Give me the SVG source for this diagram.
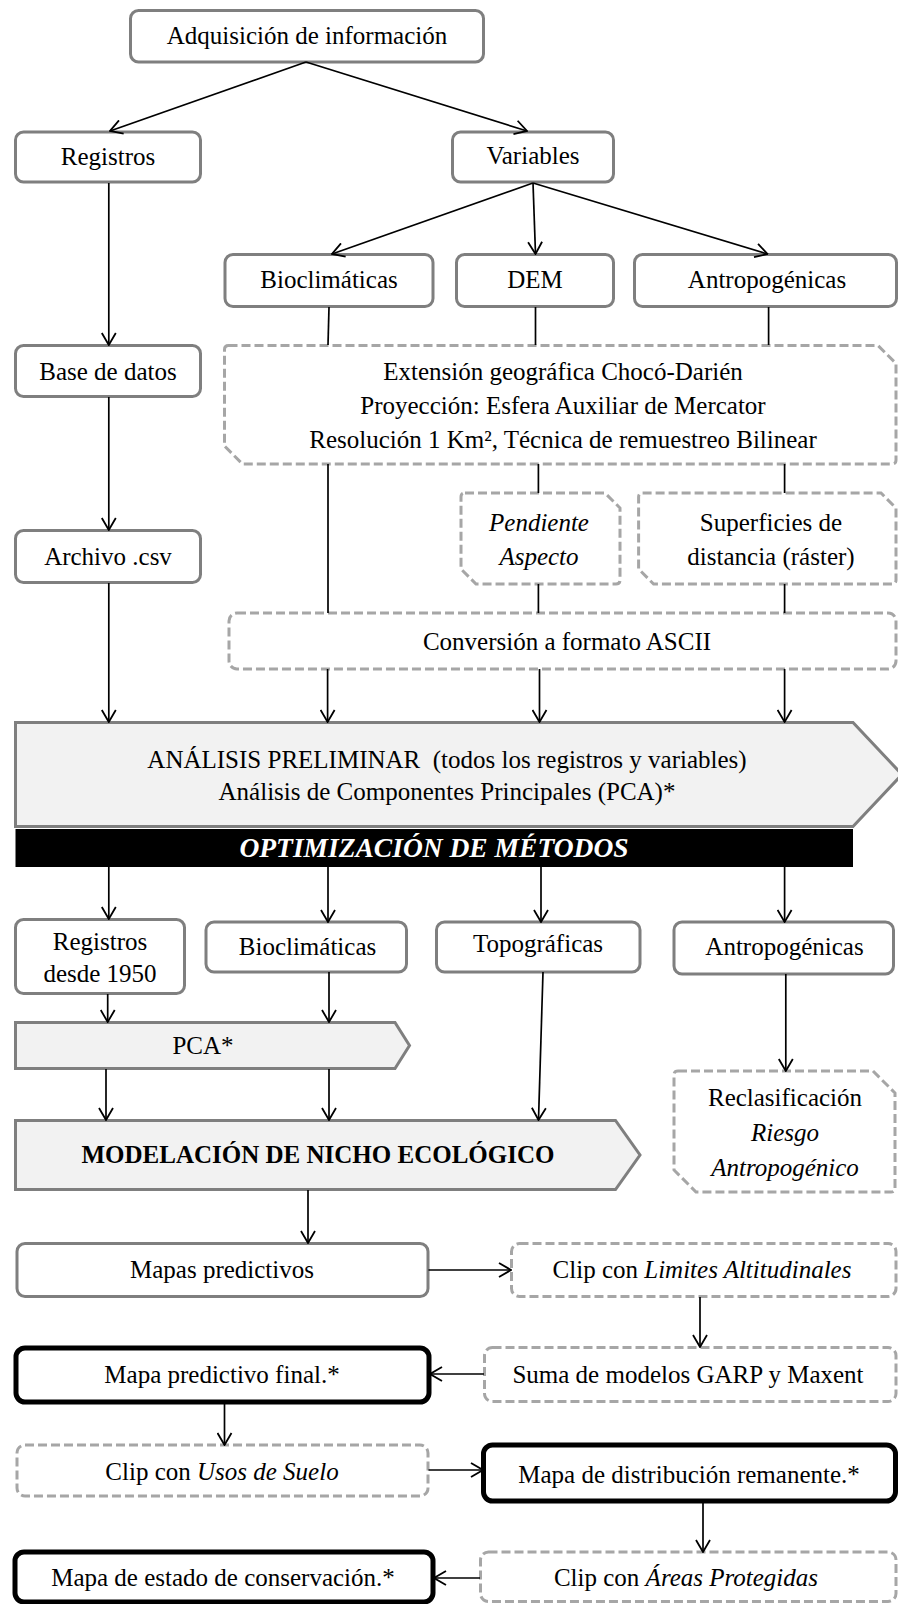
<svg xmlns="http://www.w3.org/2000/svg" width="898" height="1604" viewBox="0 0 898 1604">
<defs>
<style>
.t{font-family:"Liberation Serif","Times New Roman",serif;font-size:25px;fill:#000;text-anchor:middle}
.i{font-style:italic}
.b{font-weight:bold}
.box{fill:#fff;stroke:#7f7f7f;stroke-width:3}
.blk{fill:#fff;stroke:#000;stroke-width:5}
.dash{fill:#fff;stroke:#a6a6a6;stroke-width:3;stroke-dasharray:9 4}
.arr{fill:#f2f2f2;stroke:#7f7f7f;stroke-width:3}
.c{stroke:#000;stroke-width:1.7;fill:none}
.a{marker-end:url(#ah)}
</style>
<marker id="ah" viewBox="0 0 14 16" refX="13" refY="8" markerWidth="14" markerHeight="16" markerUnits="userSpaceOnUse" orient="auto">
<path d="M1,1 L13,8 L1,15" fill="none" stroke="#000" stroke-width="1.8"/>
</marker>
</defs>
<rect width="898" height="1604" fill="#fff"/>

<g id="n-adquisicion"><rect class="box" x="130.5" y="10.5" width="353" height="51.5" rx="8"/><text class="t" x="307" y="44">Adquisición de información</text></g>
<g id="n-registros"><rect class="box" x="15.5" y="132" width="185" height="50" rx="8"/><text class="t" x="108" y="165">Registros</text></g>
<g id="n-variables"><rect class="box" x="452.5" y="132" width="161" height="50" rx="8"/><text class="t" x="533" y="164">Variables</text></g>
<g id="n-bioclim"><rect class="box" x="225" y="254.5" width="208" height="52" rx="8"/><text class="t" x="329" y="288">Bioclimáticas</text></g>
<g id="n-dem"><rect class="box" x="456.5" y="254.5" width="157" height="52" rx="8"/><text class="t" x="535" y="288">DEM</text></g>
<g id="n-antrop"><rect class="box" x="634.5" y="254.5" width="262" height="52" rx="8"/><text class="t" x="767" y="288">Antropogénicas</text></g>
<g id="n-base"><rect class="box" x="15.5" y="345.5" width="185" height="51" rx="8"/><text class="t" x="108" y="380">Base de datos</text></g>
<g id="n-archivo"><rect class="box" x="15.5" y="530.5" width="185" height="52" rx="8"/><text class="t" x="108" y="565">Archivo .csv</text></g>
<g id="n-extension"><path class="dash" d="M228.5,345.5 H878 L896,363.5 V460 Q896,464 892,464 H242.5 L224.5,446 V349.5 Q224.5,345.5 228.5,345.5 Z"/>
<text class="t" x="563" y="380">Extensión geográfica Chocó-Darién</text>
<text class="t" x="563" y="414">Proyección: Esfera Auxiliar de Mercator</text>
<text class="t" x="563" y="448">Resolución 1 Km², Técnica de remuestreo Bilinear</text></g>
<g id="n-pendiente"><path class="dash" d="M465,493 H605 L620,508 V580 Q620,584 616,584 H476 L461,569 V497 Q461,493 465,493 Z"/>
<text class="t i" x="539" y="531">Pendiente</text><text class="t i" x="539" y="565">Aspecto</text></g>
<g id="n-superficies"><path class="dash" d="M642.6,493 H881 L896,508 V580 Q896,584 892,584 H653.6 L638.6,569 V497 Q638.6,493 642.6,493 Z"/>
<text class="t" x="771" y="531">Superficies de</text><text class="t" x="771" y="565">distancia (ráster)</text></g>
<g id="n-conversion"><rect class="dash" x="229" y="613" width="667" height="56" rx="8"/><text class="t" x="567" y="650">Conversión a formato ASCII</text></g>
<g id="n-analisis"><path class="arr" d="M15.5,722.5 H853 L902,774.5 L853,826.5 H15.5 Z"/>
<text class="t" x="447" y="768" xml:space="preserve">ANÁLISIS PRELIMINAR  (todos los registros y variables)</text>
<text class="t" x="447" y="800">Análisis de Componentes Principales (PCA)*</text></g>
<g id="n-optimizacion"><rect x="15.5" y="829" width="837.5" height="38" fill="#000"/><text class="t i b" x="434" y="857" style="font-size:27.5px;fill:#fff">OPTIMIZACIÓN DE MÉTODOS</text></g>
<g id="n-reg1950"><rect class="box" x="15.5" y="919.5" width="169" height="74" rx="8"/><text class="t" x="100" y="950">Registros</text><text class="t" x="100" y="982">desde 1950</text></g>
<g id="n-bioclim2"><rect class="box" x="206" y="922" width="200.5" height="50" rx="8"/><text class="t" x="307.5" y="955">Bioclimáticas</text></g>
<g id="n-topo"><rect class="box" x="436.5" y="922" width="203.5" height="50" rx="8"/><text class="t" x="538" y="952">Topográficas</text></g>
<g id="n-antrop2"><rect class="box" x="674" y="922" width="219.5" height="52" rx="8"/><text class="t" x="784.5" y="955">Antropogénicas</text></g>
<g id="n-pca"><path class="arr" d="M15.5,1022.5 H395 L409.5,1045.5 L395,1068.5 H15.5 Z"/><text class="t" x="203" y="1054">PCA*</text></g>
<g id="n-modelacion"><path class="arr" d="M15.5,1120.5 H615.5 L640,1155 L615.5,1189.5 H15.5 Z"/><text class="t b" x="318" y="1163">MODELACIÓN DE NICHO ECOLÓGICO</text></g>
<g id="n-reclasif"><path class="dash" d="M678,1071 H873 L895,1093 V1188 Q895,1192 891,1192 H696 L674,1170 V1075 Q674,1071 678,1071 Z"/>
<text class="t" x="785" y="1106">Reclasificación</text><text class="t i" x="785" y="1141">Riesgo</text><text class="t i" x="785" y="1176">Antropogénico</text></g>
<g id="n-mapas"><rect class="box" x="17" y="1243.5" width="411" height="53" rx="8"/><text class="t" x="222" y="1278">Mapas predictivos</text></g>
<g id="n-cliplim"><rect class="dash" x="511.5" y="1243.5" width="384.5" height="53" rx="8"/><text class="t" x="702" y="1278">Clip con <tspan class="i">Limites Altitudinales</tspan></text></g>
<g id="n-suma"><rect class="dash" x="484.5" y="1347.5" width="411.5" height="54" rx="8"/><text class="t" x="688" y="1383">Suma de modelos GARP y Maxent</text></g>
<g id="n-mapafinal"><rect class="blk" x="16" y="1348" width="413" height="54" rx="9"/><text class="t" x="222" y="1383">Mapa predictivo final.*</text></g>
<g id="n-clipusos"><rect class="dash" x="17" y="1445" width="411" height="51" rx="8"/><text class="t" x="222" y="1480">Clip con <tspan class="i">Usos de Suelo</tspan></text></g>
<g id="n-mapadist"><rect class="blk" x="483.5" y="1445" width="412" height="56" rx="9"/><text class="t" x="689" y="1483">Mapa de distribución remanente.*</text></g>
<g id="n-clipareas"><rect class="dash" x="480.5" y="1552" width="415.5" height="49.5" rx="8"/><text class="t" x="686" y="1586">Clip con <tspan class="i">Áreas Protegidas</tspan></text></g>
<g id="n-mapaestado"><rect class="blk" x="15" y="1552" width="418" height="50" rx="9"/><text class="t" x="223" y="1586">Mapa de estado de conservación.*</text></g>

<g id="connectors">
<path class="c a" d="M306,62 L110,131"/>
<path class="c a" d="M306,62 L527,131"/>
<path class="c a" d="M533,183 L332,254"/>
<path class="c a" d="M533,183 L535.5,254"/>
<path class="c a" d="M533,183 L767.5,254"/>
<path class="c a" d="M108.8,183 V345"/>
<path class="c a" d="M108.8,397 V530"/>
<path class="c a" d="M108.8,583 V722"/>
<path class="c" d="M329,307 L328,345"/>
<path class="c" d="M535.5,307 V345"/>
<path class="c" d="M768.6,307 V345"/>
<path class="c" d="M328,464 V613"/>
<path class="c" d="M538.4,464 V493"/>
<path class="c" d="M784.6,464 V493"/>
<path class="c" d="M538.4,584 V613"/>
<path class="c" d="M784.6,584 V613"/>
<path class="c a" d="M327.6,669 V722"/>
<path class="c a" d="M539.5,669 V722"/>
<path class="c a" d="M784.6,669 V722"/>
<path class="c a" d="M108.8,867 V919"/>
<path class="c a" d="M328,867 V922"/>
<path class="c a" d="M541,867 V922"/>
<path class="c a" d="M784.6,867 V922"/>
<path class="c a" d="M107.7,994 V1022"/>
<path class="c a" d="M329,972 V1022"/>
<path class="c a" d="M106,1069 V1120"/>
<path class="c a" d="M329,1069 V1120"/>
<path class="c a" d="M543,972 L538.5,1120"/>
<path class="c a" d="M785.8,974 V1071"/>
<path class="c a" d="M308,1190 V1243"/>
<path class="c a" d="M428.5,1270 H511"/>
<path class="c a" d="M700,1297 V1347"/>
<path class="c a" d="M484,1374 H430"/>
<path class="c a" d="M224.5,1403 V1445"/>
<path class="c a" d="M428.5,1470 H483"/>
<path class="c a" d="M703,1502 V1552"/>
<path class="c a" d="M480,1578 H434"/>
</g>
</svg>
